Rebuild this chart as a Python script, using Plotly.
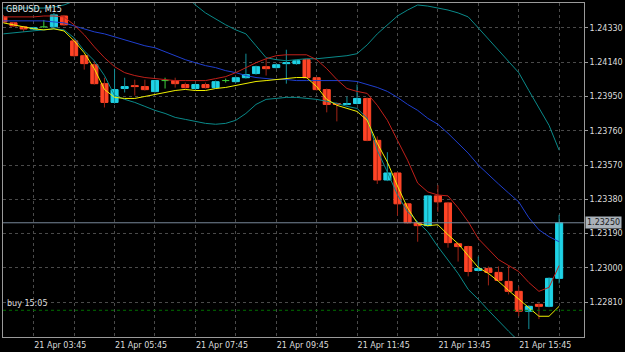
import pandas as pd
import plotly.graph_objects as go

# ---------------- data ----------------
chart_title = "GBPUSD, M15"
bar_times = pd.date_range("2023-04-21 03:00", periods=56, freq="15min")

opens = [1.24391, 1.24358, 1.24336, 1.24324, 1.24336, 1.24336, 1.24396, 1.24258,
         1.24176, 1.24126, 1.24021, 1.23917, 1.23994, 1.24010, 1.24005, 1.23977,
         1.24038, 1.24038, 1.24016, 1.23994, 1.24016, 1.23999, 1.24038, 1.24032,
         1.24054, 1.24077, 1.24115, 1.24110, 1.24132, 1.24132, 1.24154, 1.24054,
         1.23988, 1.23911, 1.23906, 1.23911, 1.23939, 1.23707, 1.23487, 1.23526,
         1.23355, 1.23250, 1.23234, 1.23399, 1.23360, 1.23134, 1.23118, 1.22986,
         1.22997, 1.22975, 1.22925, 1.22870, 1.22760, 1.22798, 1.22787, 1.22942]
highs = [1.24402, 1.24363, 1.24341, 1.24336, 1.24374, 1.24413, 1.24402, 1.24275,
         1.24181, 1.24148, 1.24054, 1.24104, 1.24054, 1.24043, 1.24043, 1.24038,
         1.24054, 1.24054, 1.24027, 1.24021, 1.24027, 1.24038, 1.24049, 1.24060,
         1.24187, 1.24121, 1.24159, 1.24132, 1.24209, 1.24154, 1.24159, 1.24060,
         1.23994, 1.23917, 1.23950, 1.24016, 1.23944, 1.23729, 1.23641, 1.23531,
         1.23360, 1.23256, 1.23404, 1.23459, 1.23366, 1.23140, 1.23123, 1.23063,
         1.23008, 1.23008, 1.23013, 1.22897, 1.22793, 1.22804, 1.22947, 1.23294]
lows = [1.24358, 1.24336, 1.24308, 1.24319, 1.24330, 1.24330, 1.24341, 1.24170,
        1.24099, 1.24016, 1.23889, 1.23911, 1.23972, 1.23955, 1.23983, 1.23972,
        1.23994, 1.23999, 1.23994, 1.23988, 1.23994, 1.23994, 1.24027, 1.24027,
        1.24049, 1.24071, 1.24066, 1.24104, 1.24021, 1.24126, 1.24049, 1.23983,
        1.23862, 1.23812, 1.23900, 1.23906, 1.23702, 1.23465, 1.23481, 1.23289,
        1.23245, 1.23145, 1.23228, 1.23311, 1.23112, 1.23035, 1.22953, 1.22980,
        1.22903, 1.22925, 1.22853, 1.22732, 1.22661, 1.22716, 1.22782, 1.22914]
closes = [1.24363, 1.24341, 1.24324, 1.24330, 1.24336, 1.24402, 1.24347, 1.24176,
          1.24132, 1.24021, 1.23917, 1.23988, 1.24005, 1.24005, 1.23988, 1.24038,
          1.24038, 1.24021, 1.23999, 1.24016, 1.23999, 1.24032, 1.24038, 1.24054,
          1.24071, 1.24115, 1.24104, 1.24126, 1.24137, 1.24148, 1.24054, 1.23988,
          1.23906, 1.23906, 1.23911, 1.23939, 1.23707, 1.23487, 1.23526, 1.23355,
          1.23250, 1.23234, 1.23399, 1.23366, 1.23140, 1.23118, 1.22980, 1.22997,
          1.22975, 1.22931, 1.22870, 1.22760, 1.22787, 1.22787, 1.22942, 1.23250]

ma_fast = [1.24358, 1.24347, 1.24336, 1.24325, 1.24319, 1.24325, 1.24313, 1.24258,
           1.24192, 1.24104, 1.23989, 1.23945, 1.23939, 1.23939, 1.23950, 1.23961,
           1.23972, 1.23983, 1.23989, 1.23983, 1.23983, 1.23994, 1.24000, 1.24011,
           1.24022, 1.24033, 1.24038, 1.24044, 1.24049, 1.24055, 1.24055, 1.24005,
           1.23934, 1.23901, 1.23884, 1.23867, 1.23818, 1.23691, 1.23586, 1.23454,
           1.23333, 1.23245, 1.23234, 1.23239, 1.23184, 1.23134, 1.23068, 1.23002,
           1.22969, 1.22925, 1.22875, 1.22826, 1.22776, 1.22732, 1.22732, 1.22787]
ma_slow = [1.24391, 1.24391, 1.24391, 1.24391, 1.24396, 1.24396, 1.24391, 1.24347,
           1.24292, 1.24225, 1.24165, 1.24115, 1.24082, 1.24066, 1.24055, 1.24049,
           1.24044, 1.24038, 1.24038, 1.24038, 1.24038, 1.24049, 1.24060, 1.24082,
           1.24110, 1.24137, 1.24159, 1.24176, 1.24181, 1.24181, 1.24181, 1.24154,
           1.24104, 1.24044, 1.23994, 1.23978, 1.23967, 1.23901, 1.23818, 1.23707,
           1.23597, 1.23470, 1.23421, 1.23404, 1.23399, 1.23333, 1.23256, 1.23162,
           1.23101, 1.23046, 1.23013, 1.22980, 1.22919, 1.22870, 1.22892, 1.23013]
bb_middle = [1.24369, 1.24369, 1.24369, 1.24369, 1.24369, 1.24363, 1.24358, 1.24341,
             1.24325, 1.24308, 1.24297, 1.24281, 1.24264, 1.24247, 1.24231, 1.24220,
             1.24198, 1.24176, 1.24154, 1.24137, 1.24121, 1.24110, 1.24093, 1.24082,
             1.24066, 1.24055, 1.24049, 1.24044, 1.24044, 1.24038, 1.24038, 1.24038,
             1.24038, 1.24038, 1.24038, 1.24033, 1.24016, 1.24000, 1.23978, 1.23945,
             1.23906, 1.23873, 1.23829, 1.23796, 1.23746, 1.23691, 1.23636, 1.23570,
             1.23515, 1.23465, 1.23415, 1.23366, 1.23278, 1.23211, 1.23173, 1.23145]
bb_upper = [1.24440, 1.24440, 1.24440, 1.24440, 1.24440, 1.24446, 1.24457, 1.24479,
            1.24523, 1.24561, 1.24589, 1.24617, 1.24633, 1.24644, 1.24644, 1.24633,
            1.24600, 1.24561, 1.24512, 1.24457, 1.24413, 1.24380, 1.24347, 1.24319,
            1.24297, 1.24231, 1.24165, 1.24154, 1.24148, 1.24154, 1.24159, 1.24159,
            1.24165, 1.24170, 1.24176, 1.24187, 1.24236, 1.24297, 1.24347, 1.24396,
            1.24429, 1.24457, 1.24451, 1.24440, 1.24429, 1.24413, 1.24391, 1.24330,
            1.24269, 1.24203, 1.24143, 1.24082, 1.23983, 1.23890, 1.23790, 1.23652]
bb_lower = [1.24297, 1.24303, 1.24308, 1.24313, 1.24319, 1.24325, 1.24319, 1.24275,
            1.24203, 1.24148, 1.24066, 1.23956, 1.23934, 1.23917, 1.23895, 1.23873,
            1.23856, 1.23834, 1.23823, 1.23812, 1.23801, 1.23796, 1.23801, 1.23818,
            1.23856, 1.23906, 1.23934, 1.23939, 1.23945, 1.23945, 1.23939, 1.23934,
            1.23923, 1.23912, 1.23895, 1.23884, 1.23829, 1.23652, 1.23531, 1.23404,
            1.23311, 1.23256, 1.23200, 1.23118, 1.23046, 1.22969, 1.22881, 1.22826,
            1.22765, 1.22704, 1.22649, 1.22594, 1.22523, 1.22468, 1.22430, 1.22397]

price_ticks = [1.22810, 1.23000, 1.23190, 1.23380, 1.23570, 1.23760, 1.23950, 1.24140, 1.24330]
price_range = [1.22617, 1.24468]
bid_price = 1.23250
order_price = 1.22765
order_label = "buy 15:05"

# ---------------- styling ----------------
BG = "#000000"
GRID = "#4a4a4a"
FRAME = "#9a9a9a"
TXT = "#dcdcdc"
BULL = "#1fd2e6"
BEAR = "#ff4426"
BULL_WICK = "#14909a"
BEAR_WICK = "#a02416"
DOJI = "#3cd23c"
FONT = "DejaVu Sans"

is_doji = [o == c for o, c in zip(opens, closes)]
def pick(arr, keep):
    return [v if k else None for v, k in zip(arr, keep)]
not_doji = [not d for d in is_doji]
body_hi = [max(o, c) for o, c in zip(opens, closes)]
body_lo = [min(o, c) for o, c in zip(opens, closes)]

fig = go.Figure()

# wicks
fig.add_trace(go.Ohlc(
    x=bar_times, open=pick(opens, not_doji), high=pick(highs, not_doji),
    low=pick(lows, not_doji), close=pick(closes, not_doji), tickwidth=0,
    increasing=dict(line=dict(color=BULL_WICK, width=1)),
    decreasing=dict(line=dict(color=BEAR_WICK, width=1)),
    hoverinfo="skip", showlegend=False))
# bodies
fig.add_trace(go.Candlestick(
    x=bar_times, open=pick(opens, not_doji), high=pick(body_hi, not_doji),
    low=pick(body_lo, not_doji), close=pick(closes, not_doji), whiskerwidth=0,
    increasing=dict(fillcolor=BULL, line=dict(color=BULL, width=1)),
    decreasing=dict(fillcolor=BEAR, line=dict(color=BEAR, width=1)),
    hoverinfo="skip", showlegend=False))
# doji crosses
fig.add_trace(go.Ohlc(
    x=bar_times, open=pick(opens, is_doji), high=pick(highs, is_doji),
    low=pick(lows, is_doji), close=pick(closes, is_doji), tickwidth=0.35,
    increasing=dict(line=dict(color=DOJI, width=1)),
    decreasing=dict(line=dict(color=DOJI, width=1)),
    hoverinfo="skip", showlegend=False))

# indicators
for series, col in [(bb_upper, "#0a8a8a"), (bb_lower, "#0a8a8a"), (bb_middle, "#1f3fcf"),
                    (ma_slow, "#c0201a"), (ma_fast, "#f0f000")]:
    fig.add_trace(go.Scatter(x=bar_times, y=series, mode="lines",
                             line=dict(color=col, width=1), hoverinfo="skip",
                             showlegend=False))

step = pd.Timedelta(minutes=15)
x_range = [bar_times[0] - 0.04 * step, bar_times[-1] + 2.46 * step]

fig.update_layout(
    width=625, height=352,
    paper_bgcolor=BG, plot_bgcolor=BG,
    margin=dict(l=2, r=37, t=2, b=14),
    showlegend=False,
    boxgap=0.3, boxgroupgap=0,
    font=dict(family=FONT, size=8, color=TXT),
    xaxis=dict(
        type="date", range=x_range, rangeslider=dict(visible=False),
        tick0="2023-04-21 03:45", dtick=7200000, tickformat="%d %b %H:%M",
        ticklabelposition="outside right", ticks="",
        showgrid=True, gridcolor=GRID, gridwidth=1, griddash="3px,3px",
        minor=dict(tick0="2023-04-21 03:45", dtick=3600000, showgrid=True,
                   gridcolor=GRID, gridwidth=1, griddash="3px,3px"),
        showline=True, mirror=True, linecolor=FRAME, linewidth=1, zeroline=False,
        tickfont=dict(family=FONT, size=8, color=TXT), fixedrange=True),
    yaxis=dict(
        side="right", range=price_range, tickmode="array", tickvals=price_ticks,
        tickformat=".5f", ticks="outside", ticklen=3, tickcolor=FRAME,
        showgrid=True, gridcolor=GRID, gridwidth=1, griddash="3px,3px",
        showline=True, mirror=True, linecolor=FRAME, linewidth=1, zeroline=False,
        tickfont=dict(family=FONT, size=8, color=TXT), fixedrange=True),
)

# bid line and order line
fig.add_shape(type="line", xref="paper", x0=0, x1=1, yref="y", y0=bid_price, y1=bid_price,
              line=dict(color="#778899", width=1))
fig.add_shape(type="line", xref="paper", x0=0, x1=1, yref="y", y0=order_price, y1=order_price,
              line=dict(color="#006e00", width=1, dash="3px,3px"))

fig.add_annotation(xref="paper", x=1, xanchor="left", yref="y", y=bid_price,
                   text=f"{bid_price:.5f}", showarrow=False, bgcolor="#aab2ba",
                   font=dict(family=FONT, size=8, color="#1a1a1a"), borderpad=1, xshift=1)
fig.add_annotation(xref="paper", x=0, xanchor="left", yref="y", y=order_price,
                   yanchor="bottom", text=order_label, showarrow=False,
                   font=dict(family=FONT, size=8, color=TXT), xshift=2)
fig.add_annotation(xref="paper", x=0, xanchor="left", yref="paper", y=1, yanchor="top",
                   text=chart_title, showarrow=False,
                   font=dict(family=FONT, size=8, color="#ececec"), xshift=1)

fig.write_html("out.html")
